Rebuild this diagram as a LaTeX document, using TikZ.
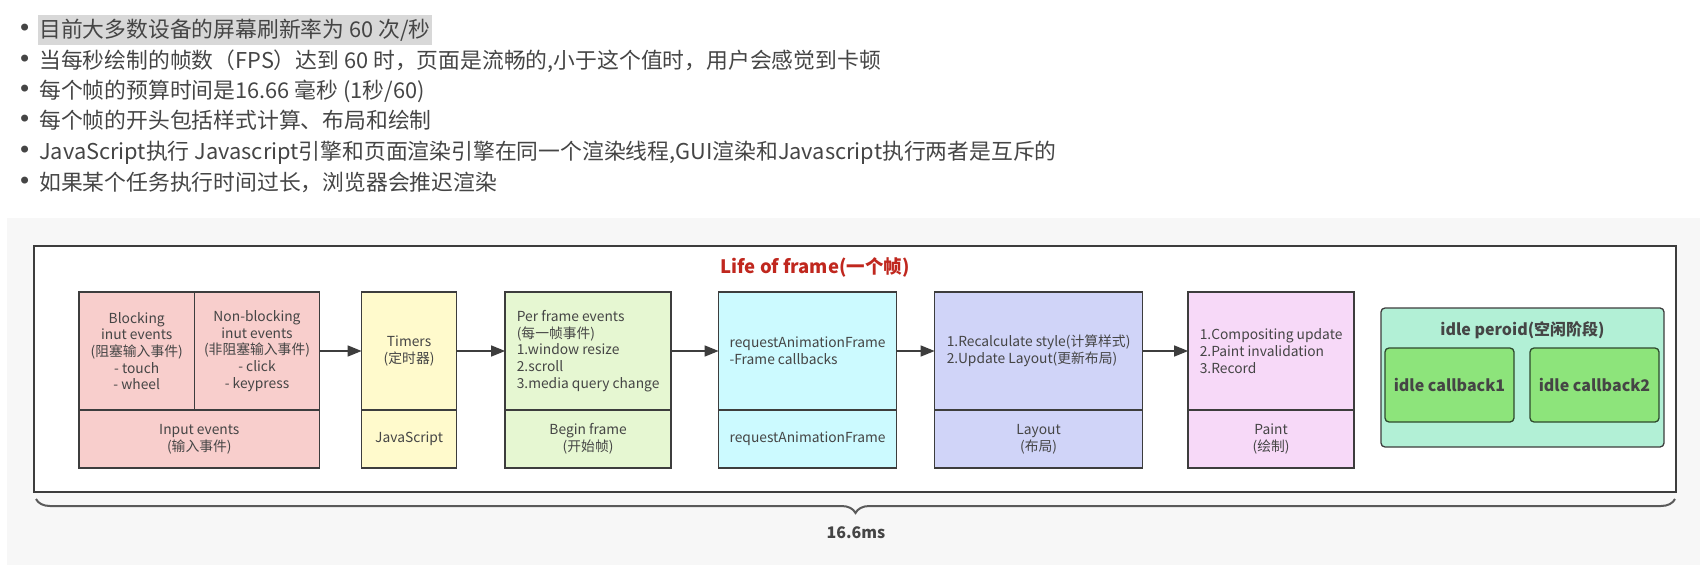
\documentclass[tikz,border=0pt]{standalone}
\usepackage{fontspec}
\setmainfont{Noto Sans CJK SC}
\newfontfamily\bulfont{DejaVu Sans}
\usepackage{xcolor}
\usepackage{tikz}
\usetikzlibrary{positioning,arrows.meta,decorations.pathreplacing}

\definecolor{linec}{HTML}{3D3D3D}
\definecolor{textc}{HTML}{454545}
\definecolor{titlec}{HTML}{C0271E}
\definecolor{panelc}{HTML}{F7F7F7}
\definecolor{hlc}{HTML}{D8D8D8}
\definecolor{inputc}{HTML}{F8CECC}
\definecolor{timerc}{HTML}{FFFACC}
\definecolor{beginc}{HTML}{E6F7D2}
\definecolor{rafc}{HTML}{CCFAFF}
\definecolor{layoutc}{HTML}{D0D4F8}
\definecolor{paintc}{HTML}{F7D9F8}
\definecolor{idlec}{HTML}{B2F0D6}
\definecolor{cbc}{HTML}{8DE47B}
\definecolor{cbline}{HTML}{2E4A2E}

\begin{document}
\begin{tikzpicture}[
  x = 1pt, y = -1pt,
  item/.style   = {anchor=west, inner xsep=1pt, inner ysep=3pt, text height=19pt, text depth=4.5pt,
                   font=\fontsize{21.8}{26}\selectfont, text=textc,
                   label={[text=textc, label distance=6pt, inner sep=0pt, font=\bulfont\fontsize{24}{24}\selectfont]left:\textbullet}},
  frame/.style  = {draw=linec, line width=2pt, fill=white, outer sep=0pt,
                   minimum width=1642pt, minimum height=246pt},
  ttl/.style    = {text=titlec, font=\bfseries\fontsize{18.5}{22}\selectfont},
  part/.style   = {draw=linec, line width=1.3pt, outer sep=0pt, inner xsep=3pt, inner ysep=0pt,
                   text=textc, font=\fontsize{13.8}{16.7}\selectfont},
  upper/.style  = {part, minimum height=118pt},
  lower/.style  = {part, minimum height=58pt, align=center},
  idlebox/.style = {draw=linec, line width=1.3pt, fill=idlec, rounded corners=4pt, outer sep=0pt,
                   minimum width=283pt, minimum height=139pt},
  idlettl/.style = {inner sep=0pt, text=textc, font=\bfseries\fontsize{16}{19}\selectfont},
  cb/.style     = {draw=cbline, line width=1.3pt, fill=cbc, rounded corners=4pt, outer sep=0pt,
                   minimum width=129pt, minimum height=74pt, text=textc,
                   font=\bfseries\fontsize{16}{19}\selectfont},
  arr/.style    = {-{Triangle[length=14pt,width=11pt]}, line width=1.5pt, draw=linec},
  brc/.style    = {decorate, decoration={brace, mirror, amplitude=14pt}, draw=linec!85, line width=2pt},
  mslbl/.style  = {text=textc, font=\bfseries\fontsize{16}{19}\selectfont}
]
% bullet list
\node[item, fill=hlc] (b1) at (38,30)  {目前大多数设备的屏幕刷新率为 60 次/秒};
\node[item]           (b2) at (38,61)  {当每秒绘制的帧数（FPS）达到 60 时，页面是流畅的,小于这个值时，用户会感觉到卡顿};
\node[item]           (b3) at (38,91)  {每个帧的预算时间是16.66 毫秒 (1秒/60)};
\node[item]           (b4) at (38,121) {每个帧的开头包括样式计算、布局和绘制};
\node[item]           (b5) at (38,152) {JavaScript执行 Javascript引擎和页面渲染引擎在同一个渲染线程,GUI渲染和Javascript执行两者是互斥的};
\node[item]           (b6) at (38,183) {如果某个任务执行时间过长，浏览器会推迟渲染};

% panel and frame
\fill[panelc] (7,218) rectangle (1700,565);
\node[frame] (frame) at (854.5,369) {};
\node[ttl] (title) at (815,267) {Life of frame(一个帧)};

% input events
\node[upper, fill=inputc, minimum width=115.4pt, align=center, anchor=north west] (block) at (79,292)
  {Blocking\\inut events\\(阻塞输入事件)\\- touch\\- wheel};
\node[upper, fill=inputc, minimum width=125.2pt, align=center, right=0pt of block] (nonblock)
  {Non-blocking\\inut events\\(非阻塞输入事件)\\- click\\- keypress};
\node[lower, fill=inputc, minimum width=240.6pt, anchor=north west] (input) at (block.south west)
  {Input events\\(输入事件)};

% javascript
\node[upper, fill=timerc, minimum width=95pt, align=center, right=42pt of nonblock] (timers) {Timers\\(定时器)};
\node[lower, fill=timerc, minimum width=95pt, below=0pt of timers] (js) {JavaScript};

% begin frame
\node[upper, fill=beginc, minimum width=166pt, align=left, right=48.5pt of timers] (perframe)
  {Per frame events\\(每一帧事件)\\1.window resize\\2.scroll\\3.media query change};
\node[lower, fill=beginc, minimum width=166pt, below=0pt of perframe] (begin) {Begin frame\\(开始帧)};

% requestAnimationFrame
\node[upper, fill=rafc, minimum width=178pt, align=left, right=47.5pt of perframe] (raf)
  {requestAnimationFrame\\-Frame callbacks};
\node[lower, fill=rafc, minimum width=178pt, below=0pt of raf] (rafb) {requestAnimationFrame};

% layout
\node[upper, fill=layoutc, minimum width=208pt, align=left, right=38pt of raf] (recalc)
  {1.Recalculate style(计算样式)\\2.Update Layout(更新布局)};
\node[lower, fill=layoutc, minimum width=208pt, below=0pt of recalc] (layout) {Layout\\(布局)};

% paint
\node[upper, fill=paintc, minimum width=166pt, align=left, right=45.5pt of recalc] (record)
  {1.Compositing update\\2.Paint invalidation\\3.Record};
\node[lower, fill=paintc, minimum width=166pt, below=0pt of record] (paint) {Paint\\(绘制)};

% idle period
\node[idlebox, anchor=north west] (idle) at (1381,308) {};
\node[idlettl, below=13pt of idle.north] (idlet) {idle peroid(空闲阶段)};
\node[cb] (cb1) at (1449.5,385) {idle callback1};
\node[cb, right=16pt of cb1] (cb2) {idle callback2};

% arrows
\draw[arr] (nonblock) -- (timers);
\draw[arr] (timers)   -- (perframe);
\draw[arr] (perframe) -- (raf);
\draw[arr] (raf)      -- (recalc);
\draw[arr] (recalc)   -- (record);

% 16.6ms brace
\coordinate (bl) at (36,499);
\coordinate (br) at (1675,499);
\draw[brc] (bl) -- (br);
\node[mslbl] (ms) at (856,533) {16.6ms};

\useasboundingbox (0,0) rectangle (1700,565);
\end{tikzpicture}
\end{document}
